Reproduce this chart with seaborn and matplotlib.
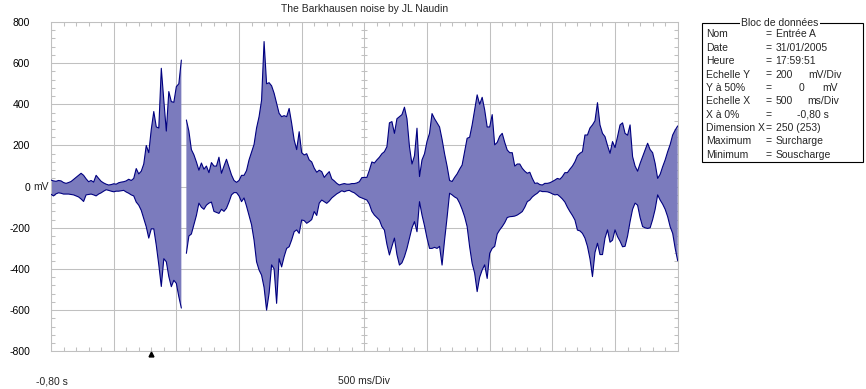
import numpy as np
import pandas as pd
import matplotlib.pyplot as plt
import seaborn as sns
from matplotlib.ticker import MultipleLocator
from matplotlib.patches import Rectangle
from matplotlib.transforms import offset_copy

nan = np.nan

# scope settings (from the data block)
t_start = -0.80      # s, X a 0%
t_step = 0.02        # s per sample (500 ms/Div, 25 samples per div)
ms_per_div = 0.5
mv_per_div = 200
trigger_t = 0.0

# envelope of the signal, mV, one value per sample (250 samples + end)
upper = [32, 28, 26, 30, 28, 20, 16, 20, 25, 35,
         45, 55, 65, 55, 38, 24, 30, 22, 55, 40,
         26, 18, 12, 8, 10, 14, 12, 19, 22, 24,
         28, 36, 30, 40, 88, 62, 75, 110, 200, 165,
         278, 365, 290, 285, 575, 420, 270, 462, 413, 410,
         486, 500, 615, nan, 324, 270, 180, 155, 120, 80,
         115, 85, 100, 68, 117, 100, 100, 143, 65, 100,
         133, 95, 57, 30, 21, 30, 55, 55, 78, 130,
         168, 205, 285, 340, 420, 705, 500, 505, 490, 454,
         405, 356, 340, 345, 340, 380, 308, 227, 180, 267,
         165, 154, 160, 130, 120, 90, 70, 80, 73, 45,
         60, 73, 38, 28, 16, 8, 12, 15, 12, 12,
         15, 15, 18, 24, 44, 45, 45, 80, 120, 115,
         130, 143, 160, 170, 194, 310, 316, 259, 330, 340,
         350, 386, 330, 194, 110, 150, 284, 49, 130, 160,
         220, 259, 355, 330, 310, 290, 230, 160, 100, 30,
         25, 45, 62, 85, 105, 170, 235, 240, 300, 373,
         446, 400, 434, 373, 290, 290, 350, 203, 215, 245,
         259, 215, 178, 165, 165, 100, 110, 110, 89, 75,
         65, 70, 40, 16, 18, 10, 8, 16, 16, 19,
         25, 32, 40, 36, 49, 68, 68, 85, 100, 121,
         150, 162, 170, 251, 251, 285, 300, 320, 408, 300,
         259, 243, 200, 162, 219, 190, 243, 300, 310, 259,
         250, 300, 146, 100, 75, 113, 146, 180, 211, 180,
         165, 113, 40, 60, 97, 130, 170, 205, 251, 275,
         295]

lower = [-37, -45, -35, -30, -32, -36, -36, -36, -38, -40,
         -45, -50, -60, -72, -40, -38, -36, -40, -45, -36,
         -30, -22, -15, -18, -22, -25, -22, -22, -20, -18,
         -26, -32, -40, -45, -75, -90, -115, -155, -195, -250,
         -205, -205, -285, -380, -485, -350, -365, -437, -486, -455,
         -470, -535, -590, nan, -324, -240, -230, -185, -140, -80,
         -100, -110, -90, -80, -75, -120, -125, -130, -110, -120,
         -105, -75, -40, -29, -29, -45, -73, -55, -95, -140,
         -185, -260, -365, -405, -430, -490, -600, -518, -380, -400,
         -567, -350, -390, -340, -300, -292, -259, -219, -210, -227,
         -162, -165, -178, -170, -160, -121, -140, -80, -65, -73,
         -81, -70, -55, -45, -35, -28, -20, -25, -20, -18,
         -25, -30, -40, -50, -55, -60, -65, -85, -120, -138,
         -150, -162, -194, -211, -280, -332, -290, -250, -330, -381,
         -370, -340, -300, -250, -200, -170, -219, -73, -138, -190,
         -250, -300, -300, -295, -300, -290, -381, -260, -150, -32,
         -40, -50, -57, -80, -110, -146, -194, -292, -373, -420,
         -510, -440, -405, -380, -446, -324, -300, -290, -230, -210,
         -194, -175, -150, -146, -145, -143, -138, -130, -121, -100,
         -73, -65, -50, -40, -32, -20, -24, -24, -25, -29,
         -35, -40, -38, -48, -60, -75, -100, -121, -140, -162,
         -211, -215, -227, -250, -290, -350, -437, -320, -275, -330,
         -330, -250, -210, -270, -260, -210, -243, -265, -292, -290,
         -240, -170, -110, -80, -90, -150, -194, -200, -203, -200,
         -160, -110, -40, -65, -85, -110, -146, -195, -227, -300,
         -360]

block_labels = ["Nom", "Date", "Heure", "Echelle Y", "Y à 50%", "Echelle X",
                "X à 0%", "Dimension X", "Maximum", "Minimum"]
block_values = ["Entrée A", "31/01/2005", "17:59:51", "200", "0", "500",
                "-0,80 s", "250 (253)", "Surcharge", "Souscharge"]
block_units = ["", "", "", "mV/Div", "mV", "ms/Div", "", "", "", ""]

title = "The Barkhausen noise by JL Naudin"

# ---------------------------------------------------------------------------
df = pd.DataFrame({"upper": upper, "lower": lower})
df["t"] = t_start + t_step * np.arange(len(df))
df["seg"] = np.cumsum(df["upper"].isna())

lines = df.melt(id_vars=["t", "seg"], value_vars=["upper", "lower"],
                var_name="curve", value_name="mV").dropna()
lines["trace"] = lines["curve"] + lines["seg"].astype(str)

sns.set_style("white")
plt.rcParams["font.family"] = ["Liberation Sans", "DejaVu Sans"]
plt.rcParams["font.size"] = 7.5

W, H = 866, 389
fig = plt.figure(figsize=(W / 100, H / 100), dpi=100)


def fxy(x, y):
    return x / W, 1 - y / H


ax = fig.add_axes([51 / W, 1 - 351.3 / H, (677.7 - 51) / W, (351.3 - 22) / H])

grid_c = "#c0c0c0"
fill_c = "#7b7bbd"
line_c = "#000080"

ax.fill_between(df["t"], df["lower"], df["upper"], color=fill_c, lw=0, zorder=2)
sns.lineplot(data=lines, x="t", y="mV", units="trace", estimator=None,
             color=line_c, lw=0.8, legend=False, ax=ax, zorder=3)

t_end = t_start + 10 * ms_per_div
ax.set_xlim(t_start, t_end)
ax.set_ylim(-4 * mv_per_div, 4 * mv_per_div)

ax.set_xticks(np.arange(t_start, t_end + 0.01, ms_per_div))
yt = np.arange(-4, 5) * mv_per_div
ax.set_yticks(yt)
ax.set_yticklabels([str(v) for v in yt])
ax.xaxis.set_minor_locator(MultipleLocator(ms_per_div / 5))
ax.yaxis.set_minor_locator(MultipleLocator(mv_per_div / 5))
ax.tick_params(axis="x", which="major", length=0, labelbottom=False)
ax.tick_params(axis="y", which="major", length=0, pad=15, labelsize=7.5, labelcolor="black")
ax.tick_params(which="minor", direction="in", length=2.6, width=0.75, color=grid_c,
               top=True, bottom=True, left=True, right=True)
ax.grid(True, which="major", color=grid_c, lw=0.75)
ax.set_axisbelow(True)
for s in ax.spines.values():
    s.set_color(grid_c)
    s.set_linewidth(0.75)
ax.set_xlabel("")
ax.set_ylabel("")

# graticule ticks on the centre lines
t_mid = t_start + 5 * ms_per_div
ys = np.arange(-4 * mv_per_div, 4 * mv_per_div + 1, mv_per_div / 5)
ax.plot(np.full(len(ys), t_mid), ys, ls="none", marker="_", ms=5, mew=0.75,
        color=grid_c, zorder=1)
xs = np.arange(t_start, t_end + 0.001, ms_per_div / 5)
ax.plot(xs, np.zeros(len(xs)), ls="none", marker="|", ms=5, mew=0.75,
        color=grid_c, zorder=1)

# "mV" after the 0 label
ax.annotate("mV", xy=(0, 0), xycoords=("axes fraction", "data"),
            xytext=(-17.5 * 0.72, 0), textcoords="offset points",
            ha="left", va="center", fontsize=7.5)

# trigger marker
ax.plot([trigger_t], [-4 * mv_per_div], marker="^", ms=3.5, color="black",
        clip_on=False, zorder=5,
        transform=offset_copy(ax.transData, fig=fig, y=-2.5, units="dots"))

fig.text(*fxy(364.5, 9), title, ha="center", va="center")
fig.text(*fxy(36, 381), "-0,80 s", ha="left", va="center")
fig.text(*fxy(364.5, 381), "500 ms/Div", ha="center", va="center")

# data block
box_x0, box_y0, box_x1, box_y1 = 702.3, 22.7, 862.7, 162.3
fig.patches.append(Rectangle(fxy(box_x0, box_y1), (box_x1 - box_x0) / W,
                             (box_y1 - box_y0) / H, transform=fig.transFigure,
                             fill=False, ec="black", lw=0.8))
fig.text(*fxy(780, box_y0), "Bloc de données", ha="center", va="center",
         bbox=dict(fc="white", ec="none", pad=1.2))
value_pos = {3: (793, "right"), 4: (804, "right"), 5: (793, "right"), 6: (797, "left")}
unit_pos = {3: 808, 4: 822, 5: 807}
for k, lab in enumerate(block_labels):
    y = 34.3 + 13.4 * k
    fig.text(*fxy(706.5, y), lab, ha="left", va="center")
    fig.text(*fxy(769, y), "=", ha="center", va="center")
    vx, ha = value_pos.get(k, (775.5, "left"))
    fig.text(*fxy(vx, y), block_values[k], ha=ha, va="center")
    if block_units[k]:
        fig.text(*fxy(unit_pos[k], y), block_units[k], ha="left", va="center")

fig.savefig("out.png", dpi=100)
